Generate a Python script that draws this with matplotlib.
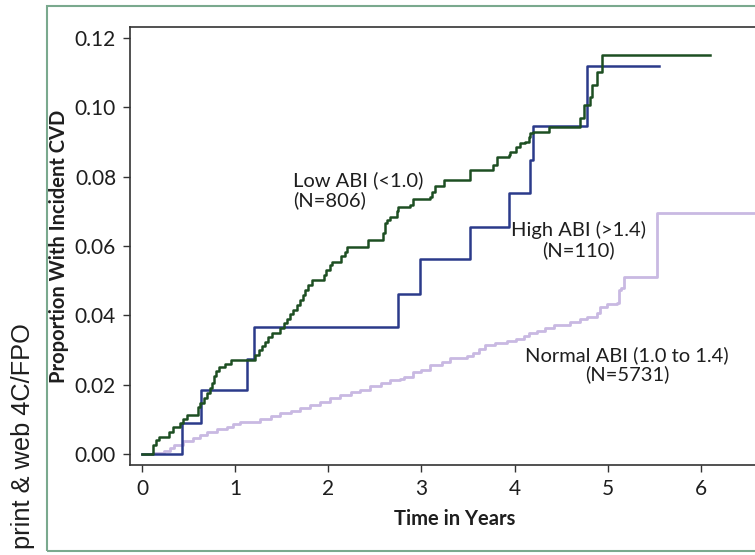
import matplotlib
matplotlib.use('Agg')
import matplotlib.pyplot as plt
from matplotlib.patches import Rectangle

# Kaplan-Meier style cumulative incidence
low_t = [0, 0.115, 0.15, 0.18, 0.29, 0.33, 0.41, 0.437, 0.48, 0.605, 0.623, 0.66, 0.70,
         0.73, 0.75, 0.77, 0.79, 0.83, 0.89, 0.95, 1.214, 1.25, 1.285, 1.32, 1.357, 1.39,
         1.48, 1.52, 1.56, 1.59, 1.625, 1.66, 1.70, 1.73, 1.75, 1.78, 1.82, 1.95, 1.98,
         2.02, 2.04, 2.14, 2.18, 2.20, 2.43, 2.59, 2.61, 2.63, 2.66, 2.735, 2.75, 2.88,
         2.91, 3.09, 3.11, 3.15, 3.24, 3.52, 3.77, 3.81, 3.935, 3.95, 4.01, 4.02, 4.06,
         4.11, 4.15, 4.17, 4.20, 4.365, 4.70, 4.74, 4.81, 4.83, 4.88, 4.94, 6.10]
low_v = [0, 0.0026, 0.004, 0.005, 0.0063, 0.0077, 0.0088, 0.010, 0.0112, 0.0136, 0.0146,
         0.016, 0.0175, 0.019, 0.0205, 0.0225, 0.024, 0.0252, 0.026, 0.0272, 0.0286, 0.030,
         0.0312, 0.0324, 0.0338, 0.0348, 0.0363, 0.0377, 0.039, 0.0405, 0.0415, 0.043,
         0.0444, 0.0458, 0.0473, 0.0488, 0.0502, 0.0516, 0.053, 0.0545, 0.0555, 0.057,
         0.0584, 0.0597, 0.0617, 0.0637, 0.0665, 0.0675, 0.0685, 0.070, 0.0712, 0.0718,
         0.0735, 0.0742, 0.0757, 0.0772, 0.079, 0.0819, 0.0834, 0.0858, 0.0862, 0.0872,
         0.0877, 0.0886, 0.0896, 0.0901, 0.0915, 0.0925, 0.093, 0.0944, 0.0968, 0.1007,
         0.1031, 0.1064, 0.1103, 0.1151, 0.1151]

high_t = [0, 0.43, 0.635, 1.125, 1.205, 2.746, 2.98, 3.523, 3.935, 4.167, 4.2, 4.78, 5.55]
high_v = [0, 0.0088, 0.0183, 0.0274, 0.0367, 0.0461, 0.0562, 0.0654, 0.0752, 0.0848,
          0.0946, 0.1119, 0.1119]

normal_t = [0, 0.12, 0.23, 0.30, 0.34, 0.44, 0.55, 0.62, 0.695, 0.80, 0.91, 0.98, 1.05,
            1.27, 1.38, 1.48, 1.60, 1.70, 1.80, 1.91, 2.02, 2.13, 2.24, 2.34, 2.45, 2.56,
            2.66, 2.77, 2.81, 2.91, 2.99, 3.09, 3.22, 3.31, 3.49, 3.55, 3.62, 3.68, 3.79,
            3.92, 4.02, 4.10, 4.15, 4.24, 4.33, 4.42, 4.60, 4.70, 4.78, 4.88, 4.92, 4.99,
            5.10, 5.12, 5.14, 5.17, 5.53, 6.90]
normal_v = [0, 0.0003, 0.0008, 0.0018, 0.0026, 0.0036, 0.0045, 0.0055, 0.0064, 0.0072,
            0.0079, 0.0087, 0.0093, 0.0100, 0.0108, 0.0117, 0.0125, 0.0132, 0.0142, 0.0151,
            0.0160, 0.0170, 0.0178, 0.0185, 0.0195, 0.0204, 0.0214, 0.0217, 0.0221, 0.0235,
            0.0242, 0.0257, 0.0266, 0.0276, 0.0283, 0.0292, 0.0303, 0.0314, 0.0321, 0.0327,
            0.0333, 0.0340, 0.0348, 0.0356, 0.0362, 0.0372, 0.0382, 0.0388, 0.0396, 0.0406,
            0.0423, 0.0432, 0.0435, 0.0473, 0.0478, 0.0511, 0.0696, 0.0696]

x_ticks = [0, 1, 2, 3, 4, 5, 6]
y_ticks = [0.00, 0.02, 0.04, 0.06, 0.08, 0.10, 0.12]

green = '#1d4f22'
navy = '#2b3a8a'
lavender = '#c9b9e2'
frame_col = '#7aa98e'
txt = '#1e1e1e'

plt.rcParams['font.family'] = ['Lato', 'DejaVu Sans']

fig = plt.figure(figsize=(7.55, 5.55), dpi=100)
ax = fig.add_axes([130 / 755, 90 / 555, 650 / 755, 438 / 555])

ax.step(normal_t, normal_v, where='post', color=lavender, lw=2.0)
ax.step(high_t, high_v, where='post', color=navy, lw=1.8)
ax.step(low_t, low_v, where='post', color=green, lw=1.8)

ax.set_xlim(-0.13, 6.85)
ax.set_ylim(-0.0032, 0.1232)
ax.set_xticks(x_ticks)
ax.set_yticks(y_ticks)
ax.set_yticklabels(['%.2f' % v for v in y_ticks])
ax.tick_params(labelsize=15, length=5, width=1, color='#333333', labelcolor=txt, pad=5)
for s in ax.spines.values():
    s.set_color('#333333')
    s.set_linewidth(1.2)

ax.set_xlabel('Time in Years', fontsize=14.5, fontweight='bold', labelpad=7, color=txt)
ax.set_ylabel('Proportion With Incident CVD', fontsize=14.5, fontweight='bold', labelpad=4,
              color=txt)

ax.text(1.62, 0.0761, 'Low ABI (<1.0)\n(N=806)', fontsize=14.5, ha='left', va='center',
        linespacing=1.1, color=txt)
ax.text(4.69, 0.0617, 'High ABI (>1.4)\n(N=110)', fontsize=14.5, ha='center', va='center',
        linespacing=1.1, color=txt)
ax.text(5.21, 0.0257, 'Normal ABI (1.0 to 1.4)\n(N=5731)', fontsize=14.5, ha='center',
        va='center', linespacing=1.1, color=txt)

# outer frame and FPO tag
fig.patches.append(Rectangle((47 / 755, 4 / 555), 1.0, 545 / 555, transform=fig.transFigure,
                             fill=False, edgecolor=frame_col, lw=1.5))
fig.text(23 / 755, 1 - 436 / 555, 'print & web 4C/FPO', rotation=90, ha='center', va='center',
         fontsize=18.3, family='Liberation Sans', color=txt)

fig.savefig('out.png', dpi=100)
